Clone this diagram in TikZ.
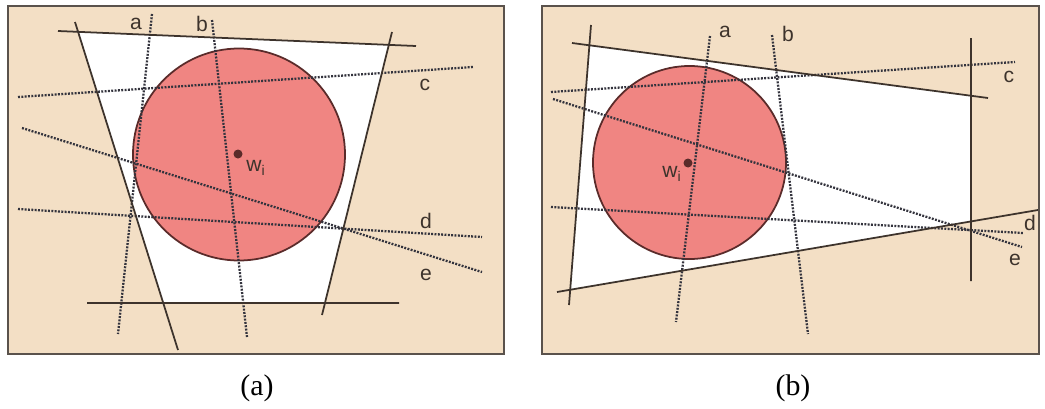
\documentclass[tikz,border=0pt]{standalone}
\usepackage{fontspec}
\setmainfont{Liberation Serif}
\setsansfont{Liberation Sans}
\usepackage{tikz}

\definecolor{paper}{HTML}{F3DFC5}
\definecolor{salmon}{HTML}{F08582}
\definecolor{rim}{HTML}{5A2B2A}
\definecolor{ink}{HTML}{3D332C}
\definecolor{dots}{HTML}{33333D}

\begin{document}
\begin{tikzpicture}[x=0.02cm,y=-0.02cm,
  bound/.style={ink,line width=1pt},
  cut/.style={dots,line width=1.3pt,dash pattern=on 1.1pt off 0.8pt},
  ball/.style={fill=salmon,draw=rim,line width=1pt},
  lab/.style={font=\sffamily\fontsize{12}{14}\selectfont,text=ink,inner sep=0pt},
  subcap/.style={font=\fontsize{17}{20}\selectfont,inner sep=0pt}]
\useasboundingbox (0,0) rectangle (1045,409);
% panels
\fill[paper] (8,6) rectangle (504,354);
\fill[paper] (542,6) rectangle (1039,354);
% (a) feasible region
\fill[white] (intersection of 58,31--416,46 and 75,22--178,350)
  -- (intersection of 58,31--416,46 and 392,32--322,315)
  -- (intersection of 87,303--399,303 and 392,32--322,315)
  -- (intersection of 87,303--399,303 and 75,22--178,350) -- cycle;
% (b) feasible region
\fill[white] (intersection of 572,43--988,98 and 591,25--569,305)
  -- (intersection of 572,43--988,98 and 971,38--971,281)
  -- (intersection of 557,292--1038,210 and 971,38--971,281)
  -- (intersection of 557,292--1038,210 and 591,25--569,305) -- cycle;
\draw[ball] (239,154.5) circle[radius=106];
\draw[ball] (689.5,162.5) circle[radius=96.5];
% cuts (a)
\draw[cut] (152,14)--(118,334);
\draw[cut] (212,20)--(247,337);
\draw[cut] (18,97)--(473,67);
\draw[cut] (18,209)--(482,237);
\draw[cut] (22,128)--(482,272);
% cuts (b)
\draw[cut] (710,36)--(676,322);
\draw[cut] (772,35)--(808,334);
\draw[cut] (551,92)--(1015,62);
\draw[cut] (551,207)--(1023,233);
\draw[cut] (553,99)--(1022,247);
% bounds
\draw[bound] (58,31)--(416,46) (75,22)--(178,350) (392,32)--(322,315) (87,303)--(399,303);
\draw[bound] (572,43)--(988,98) (591,25)--(569,305) (971,38)--(971,281) (557,292)--(1038,210);
% centres
\fill[rim] (238,154) circle[radius=4.5];
\fill[rim] (688,163) circle[radius=4.5];
\node[lab] (wa) at (256,168) {w\textsubscript{i}};
\node[lab] (wb) at (672,174) {w\textsubscript{i}};
\node[lab] (aa) at (136,24) {a};
\node[lab] (ba) at (202,24) {b};
\node[lab] (ca) at (425,85) {c};
\node[lab] (da) at (426,221) {d};
\node[lab] (ea) at (426,275) {e};
\node[lab] (ab) at (725,32) {a};
\node[lab] (bb) at (788,34) {b};
\node[lab] (cb) at (1009,77) {c};
\node[lab] (db) at (1030,223) {d};
\node[lab] (eb) at (1015,260) {e};
% frames
\draw[ink!85,line width=0.8pt] (8,6) rectangle (504,354);
\draw[ink!85,line width=0.8pt] (542,6) rectangle (1039,354);
\node[subcap] (capa) at (257,388) {(a)};
\node[subcap] (capb) at (793,388) {(b)};
\end{tikzpicture}
\end{document}
